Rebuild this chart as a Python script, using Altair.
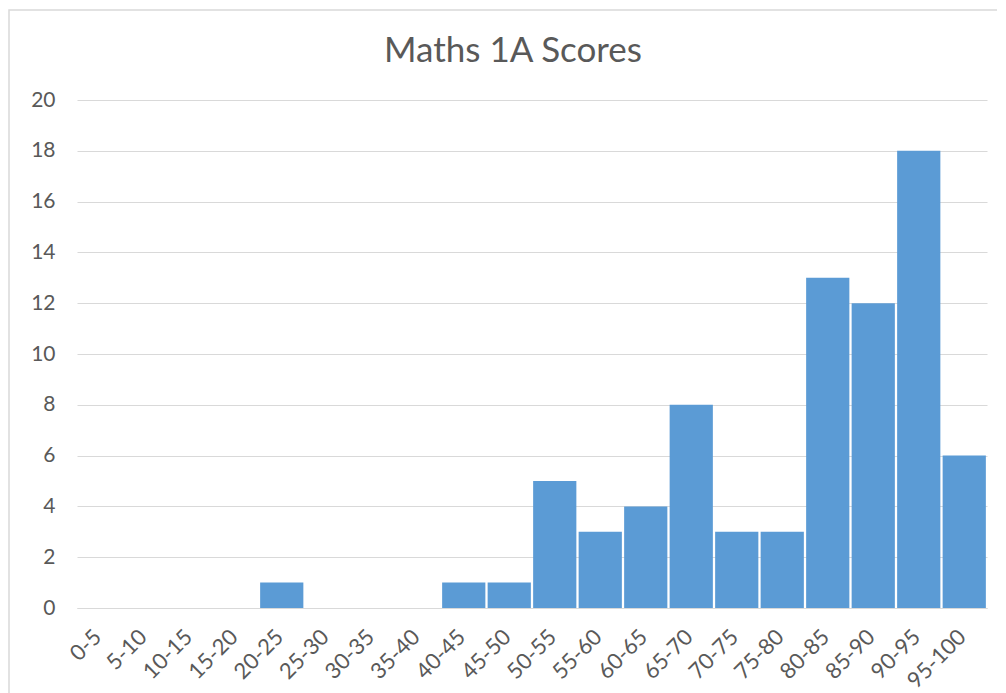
import altair as alt
import pandas as pd

categories = ["0-5", "5-10", "10-15", "15-20", "20-25", "25-30", "30-35", "35-40",
              "40-45", "45-50", "50-55", "55-60", "60-65", "65-70", "70-75", "75-80",
              "80-85", "85-90", "90-95", "95-100"]
counts = [0, 0, 0, 0, 1, 0, 0, 0, 1, 1, 5, 3, 4, 8, 3, 3, 13, 12, 18, 6]
title_text = "Maths 1A Scores"

df = pd.DataFrame({"range": categories, "count": counts})

FONT = "Lato"
TXT = "#595959"
GRID = "#d9d9d9"

bars = alt.Chart(df).mark_bar(color="#5B9BD5").encode(
    x=alt.X("range:N", sort=categories,
            scale=alt.Scale(paddingInner=0.05, paddingOuter=0.025),
            axis=alt.Axis(title=None, labelAngle=-45, labelFontSize=22, labelColor=TXT,
                          labelFont=FONT, ticks=False, domain=True, domainColor=GRID,
                          labelPadding=18, labelOffset=-9, grid=False)),
    y=alt.Y("count:Q", scale=alt.Scale(domain=[0, 20]),
            axis=alt.Axis(title=None, values=list(range(0, 21, 2)), labelFontSize=21,
                          labelColor=TXT, labelFont=FONT, ticks=False, domain=False,
                          gridColor=GRID, labelPadding=22)),
)

one = pd.DataFrame({"t": [title_text]})

border = alt.Chart(one).mark_rect(
    fill=None, stroke=GRID, strokeWidth=1.5
).encode(x=alt.value(-68), x2=alt.value(940), y=alt.value(-90), y2=alt.value(600))

title = alt.Chart(one).mark_text(
    font=FONT, fontSize=35, color=TXT, align="center", baseline="middle"
).encode(text="t:N", x=alt.value(436), y=alt.value(-49))

chart = alt.layer(border, bars, title).properties(
    width=910, height=508,
    autosize=alt.AutoSizeParams(type="none"),
    padding={"left": 69, "top": 92, "right": 10, "bottom": 86},
).configure_view(stroke=None)

chart.save("out.html", embed_options={"renderer": "svg", "actions": False})
